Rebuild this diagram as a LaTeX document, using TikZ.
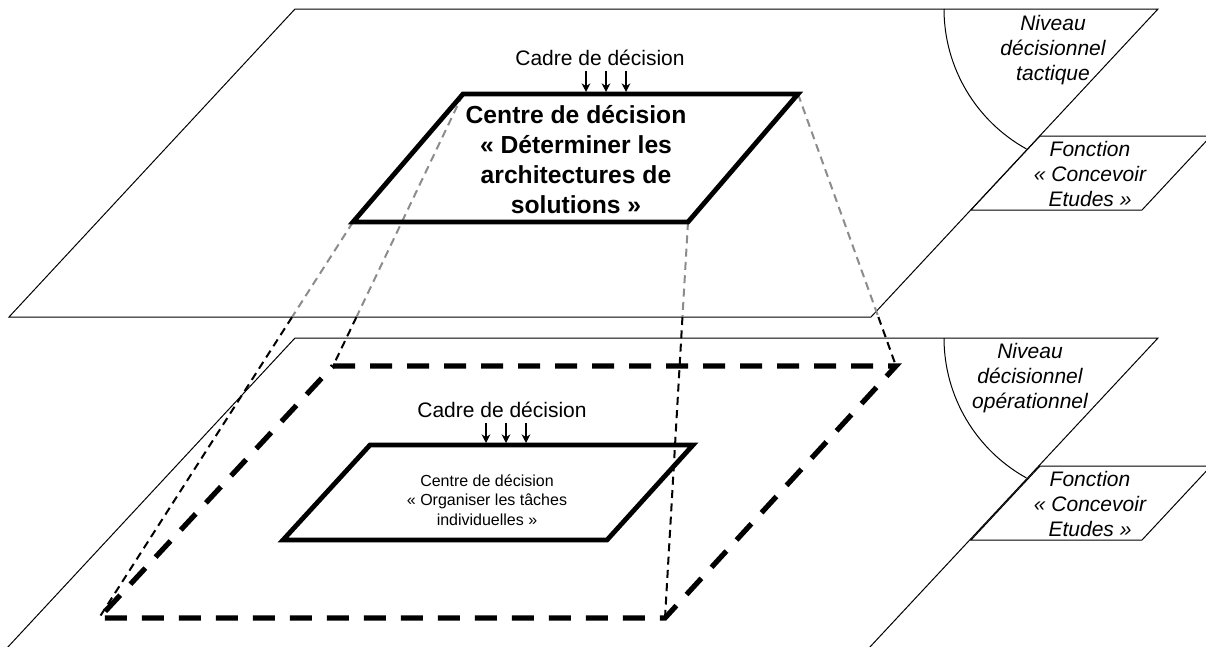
\documentclass[tikz,border=0pt]{standalone}
\usepackage{fontspec}
\setmainfont{Liberation Sans}
\usetikzlibrary{arrows.meta}
\begin{document}
\begin{tikzpicture}[x=0.75pt,y=-0.75pt,
  plane/.style={draw=black, fill=white, line width=0.75pt, line join=miter},
  centrebox/.style={draw=black, line width=3.6pt, line join=miter},
  frame/.style={draw=black, line width=3.9pt, dash pattern=on 16.5pt off 11.25pt},
  proj/.style={line width=1.5pt, dash pattern=on 6pt off 4pt},
  projback/.style={proj, draw=black!45},
  projfront/.style={proj, draw=black},
  cadre/.style={font=\fontsize{15.75}{18.75}\selectfont, inner sep=0pt},
  label/.style={font=\fontsize{15.75}{18.75}\selectfont\itshape, align=center, inner sep=0pt},
  bigtext/.style={font=\fontsize{18.5}{22.5}\selectfont\bfseries, align=center, inner sep=0pt},
  smalltext/.style={font=\fontsize{12}{14.6}\selectfont, align=center, inner sep=0pt},
  input/.style={-{Stealth[length=6.5pt,width=6.5pt]}, line width=0.9pt},
]
\useasboundingbox (0,0) rectangle (1206,646);

% corners of the two decision levels
\coordinate (tpA) at (295,9);   \coordinate (tpB) at (1158,9);
\coordinate (tpC) at (871,317); \coordinate (tpD) at (9,317);
\coordinate (lpA) at (295,338); \coordinate (lpB) at (1158,338);
\coordinate (lpC) at (869,648); \coordinate (lpD) at (7,648);

% corners of the decision centres
\coordinate (tcA) at (463,94);  \coordinate (tcB) at (798,94);
\coordinate (tcC) at (688,222); \coordinate (tcD) at (353,222);
\coordinate (lcA) at (370,445); \coordinate (lcB) at (693,445);
\coordinate (lcC) at (607,540); \coordinate (lcD) at (283,540);

% dashed frame on the operational level
\coordinate (dfA) at (333,366); \coordinate (dfB) at (896,366);
\coordinate (dfC) at (665,618); \coordinate (dfD) at (99,618);

% function boxes
\coordinate (fA) at (1040,136); \coordinate (fB) at (1211,136);
\coordinate (fC) at (1142,210); \coordinate (fD) at (971,210);
\coordinate (gA) at (1040,466); \coordinate (gB) at (1211,466);
\coordinate (gC) at (1142,540); \coordinate (gD) at (971,540);

% lower level
\draw[plane] (lpA) -- (lpB) -- (lpC) -- (lpD) -- cycle;
\draw[line width=0.75pt] (944,338) arc[start angle=180, end angle=119, radius=160];
\draw[plane] (gA) -- (gB) -- (gC) -- (gD) -- cycle;
\node[label] (nivop) at (1030,378) {Niveau\\décisionnel\\opérationnel};
\node[label] (fonctop) at (1090,504) {Fonction\\« Concevoir\\Etudes »};

% upper level
\draw[plane] (tpA) -- (tpB) -- (tpC) -- (tpD) -- cycle;
\draw[line width=0.75pt] (944,9) arc[start angle=180, end angle=119, radius=160];
\draw[plane] (fA) -- (fB) -- (fC) -- (fD) -- cycle;
\node[label] (nivtac) at (1053,50) {Niveau\\décisionnel\\tactique};
\node[label] (fonctac) at (1090,174) {Fonction\\« Concevoir\\Etudes »};

% projection lines: grey over the upper level, black below it
\coordinate (xD) at (intersection of tcD--dfD and tpD--tpC);
\coordinate (xA) at (intersection of tcA--dfA and tpD--tpC);
\coordinate (xC) at (intersection of tcC--dfC and tpD--tpC);
\coordinate (xB) at (intersection of tcB--dfB and tpD--tpC);
\draw[projback] (tcD) -- (xD);
\draw[projback] (tcA) -- (xA);
\draw[projback] (tcC) -- (xC);
\draw[projback] (tcB) -- (xB);
\draw[projfront] (xD) -- (dfD);
\draw[projfront] (xA) -- (dfA);
\draw[projfront] (xC) -- (dfC);
\draw[projfront] (xB) -- (dfB);

% upper decision centre
\draw[centrebox] (tcA) -- (tcB) -- (tcC) -- (tcD) -- cycle;
\node[bigtext] (ctac) at (576,160) {Centre de décision\\« Déterminer les\\architectures de\\solutions »};
\node[cadre, anchor=base] (cadtac) at (600,65) {Cadre de décision};
\foreach \i/\x in {1/586,2/606,3/626} {
  \coordinate (ta\i) at (\x,71);
  \coordinate (tb\i) at (\x,92);
  \draw[input] (ta\i) -- (tb\i);
}

% lower decision centre and its frame
\draw[frame] (dfA) -- (dfB) -- (dfC) -- (dfD) -- cycle;
\draw[centrebox] (lcA) -- (lcB) -- (lcC) -- (lcD) -- cycle;
\node[smalltext] (cop) at (487,500) {Centre de décision\\« Organiser les tâches\\individuelles »};
\node[cadre, anchor=base] (cadop) at (502,417) {Cadre de décision};
\foreach \i/\x in {1/486,2/506,3/526} {
  \coordinate (la\i) at (\x,423);
  \coordinate (lb\i) at (\x,443);
  \draw[input] (la\i) -- (lb\i);
}
\end{tikzpicture}
\end{document}
